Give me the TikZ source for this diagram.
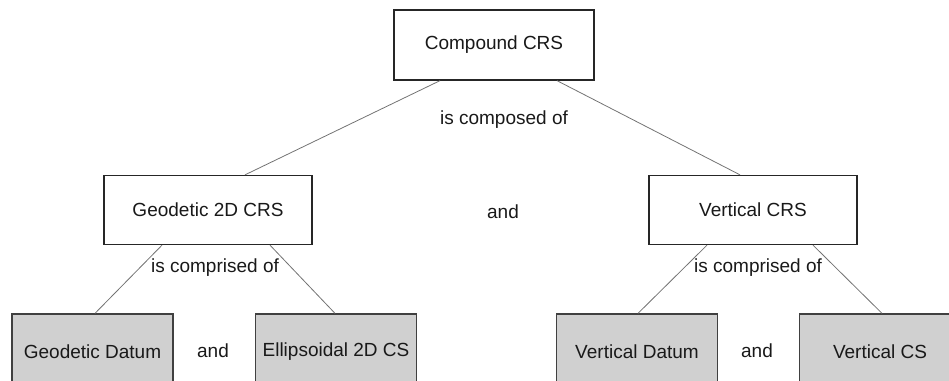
\documentclass[tikz,border=0pt]{standalone}
\usepackage{fontspec}
\setmainfont{Liberation Sans}
\usetikzlibrary{calc}
\definecolor{boxgrey}{rgb}{0.816, 0.816, 0.816}
\definecolor{linegrey}{rgb}{0.45, 0.45, 0.45}

\begin{document}
\begin{tikzpicture}[x=1pt,y=1pt,
        every node/.style={font=\fontsize{19}{22}\selectfont, text=black!90, inner sep=0pt},
        crsbox/.style={draw=black!85, line width=1.3pt, fill=white},
        partbox/.style={draw=black!75, line width=1.3pt, fill=boxgrey, minimum width=161pt, minimum height=76pt},
        link/.style={draw=linegrey, line width=0.8pt}]
            \useasboundingbox (0,0) rectangle (949,-380);
            \clip (0,0) rectangle (949,-380);
            \node[crsbox, minimum width=200pt, minimum height=70pt] (compound) at (494,-45) {Compound CRS};
            \node[crsbox, minimum width=208pt, minimum height=69pt] (geo) [below of = compound, node distance=165pt, xshift=-286pt] {Geodetic 2D CRS};
            \node[crsbox, minimum width=208pt, minimum height=69pt] (vert) [below of = compound, node distance=165pt, xshift=259pt] {Vertical CRS};
            \node[partbox] (gdatum) [below of = geo, node distance=142pt, xshift=-115.5pt] {Geodetic Datum};
            \node[partbox] (ell) [right of = gdatum, node distance=243.5pt] {Ellipsoidal 2D CS};
            \node[partbox] (vdatum) [below of = vert, node distance=142pt, xshift=-116pt] {Vertical Datum};
            \node[partbox] (vcs) [right of = vdatum, node distance=243pt] {Vertical CS};
            % labels
            \node (composed) at (504,-120) {is composed of};
            \node (geocomp) at (215,-268) {is comprised of};
            \node (vertcomp) at (758,-268) {is comprised of};
            \node (and0) at (503,-212) {and};
            \node (and1) at (213,-351) {and};
            \node (and2) at (757,-351) {and};
            \path[link] ([xshift=-54pt]compound.south) -- ([xshift=37pt]geo.north)
                ([xshift=63pt]compound.south) -- ([xshift=-13pt]vert.north)
                ([xshift=-46pt]geo.south) -- ([xshift=2.5pt]gdatum.north)
                ([xshift=62pt]geo.south) -- ([xshift=-1pt]ell.north)
                ([xshift=-46pt]vert.south) -- ([xshift=1pt]vdatum.north)
                ([xshift=60pt]vert.south) -- ([xshift=2pt]vcs.north);
        \end{tikzpicture}
\end{document}
